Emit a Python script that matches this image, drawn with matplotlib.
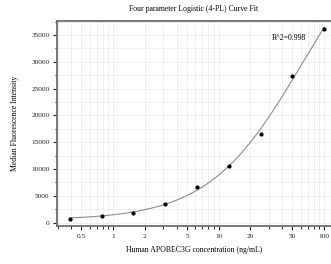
import numpy as np
import matplotlib
matplotlib.use("Agg")
import matplotlib.pyplot as plt
from matplotlib.ticker import FixedLocator, LogLocator, NullFormatter, MultipleLocator

conc = [0.39, 0.78, 1.56, 3.125, 6.25, 12.5, 25, 50, 100]
mfi = [740, 1300, 1730, 3480, 6570, 10600, 16600, 27400, 36200]
xticks = [0.5, 1, 2, 5, 10, 20, 50, 100]
xticklabels = ["0.5", "1", "2", "5", "10", "20", "50", "100"]
yticks = [0, 5000, 10000, 15000, 20000, 25000, 30000, 35000]

plt.rcParams['font.family'] = ['Liberation Serif', 'DejaVu Serif']

x = np.array(conc, dtype=float)
y = np.array(mfi, dtype=float)

# 4PL fit: y = D + (A - D) / (1 + (x/C)^B), grid over B, C; linear in A, D
best = None
for B in np.linspace(0.3, 2.5, 221):
    for C in np.logspace(0, 4, 401):
        g = 1.0 / (1.0 + (x / C) ** B)
        M = np.column_stack([g, 1 - g])
        coef, res, *_ = np.linalg.lstsq(M, y, rcond=None)
        sse = np.sum((M @ coef - y) ** 2)
        if best is None or sse < best[0]:
            best = (sse, B, C, coef[0], coef[1])
_, B, C, A, D = best
xs = np.logspace(np.log10(conc[0]), np.log10(conc[-1]), 300)
ys = D + (A - D) / (1 + (xs / C) ** B)

fig = plt.figure(figsize=(3.31, 2.64), dpi=100)
ax = fig.add_axes([57/331, 1 - 226/264, (331 - 57)/331, (226 - 21)/264])
ax.plot(xs, ys, color='#8c8c8c', lw=0.8, zorder=2)
ax.scatter(conc, mfi, s=4, color='black', zorder=3)

ax.set_xscale('log')
ax.set_xlim(0.294, 116)
ax.set_ylim(-650, 37600)
ax.xaxis.set_major_locator(FixedLocator(xticks))
ax.set_xticklabels(xticklabels)
ax.xaxis.set_minor_locator(LogLocator(base=10, subs=np.arange(2, 10)))
ax.xaxis.set_minor_formatter(NullFormatter())
ax.set_yticks(yticks)
ax.set_yticklabels([str(v) for v in yticks])
ax.yaxis.set_minor_locator(MultipleLocator(2500))

ax.grid(True, which='both', color='#ededed', lw=0.6, zorder=0)
ax.set_axisbelow(True)

for s in ['left', 'bottom', 'top']:
    ax.spines[s].set_color('#6e6e6e')
    ax.spines[s].set_linewidth(1.3)
ax.spines['right'].set_visible(False)

ax.tick_params(axis='both', which='major', direction='out', length=3, width=0.8,
               labelsize=5.3, colors='#222222', pad=2.5)
ax.tick_params(axis='both', which='minor', direction='out', length=1.8, width=0.7,
               colors='#222222')
ax.tick_params(top=False, which='both')

ax.set_xlabel('Human APOBEC3G concentration (ng/mL)', fontsize=5.6, labelpad=5)
ax.set_ylabel('Median Fluorescence Intensity', fontsize=5.6, labelpad=9)
fig.text(0.5 + 28/331, 1 - 9/264, 'Four parameter Logistic (4-PL) Curve Fit',
         ha='center', va='center', fontsize=5.6)
ax.text(0.91, 0.915, 'R^2=0.998', transform=ax.transAxes, ha='right', va='center',
        fontsize=5.6)

fig.savefig('out.png', dpi=100)
